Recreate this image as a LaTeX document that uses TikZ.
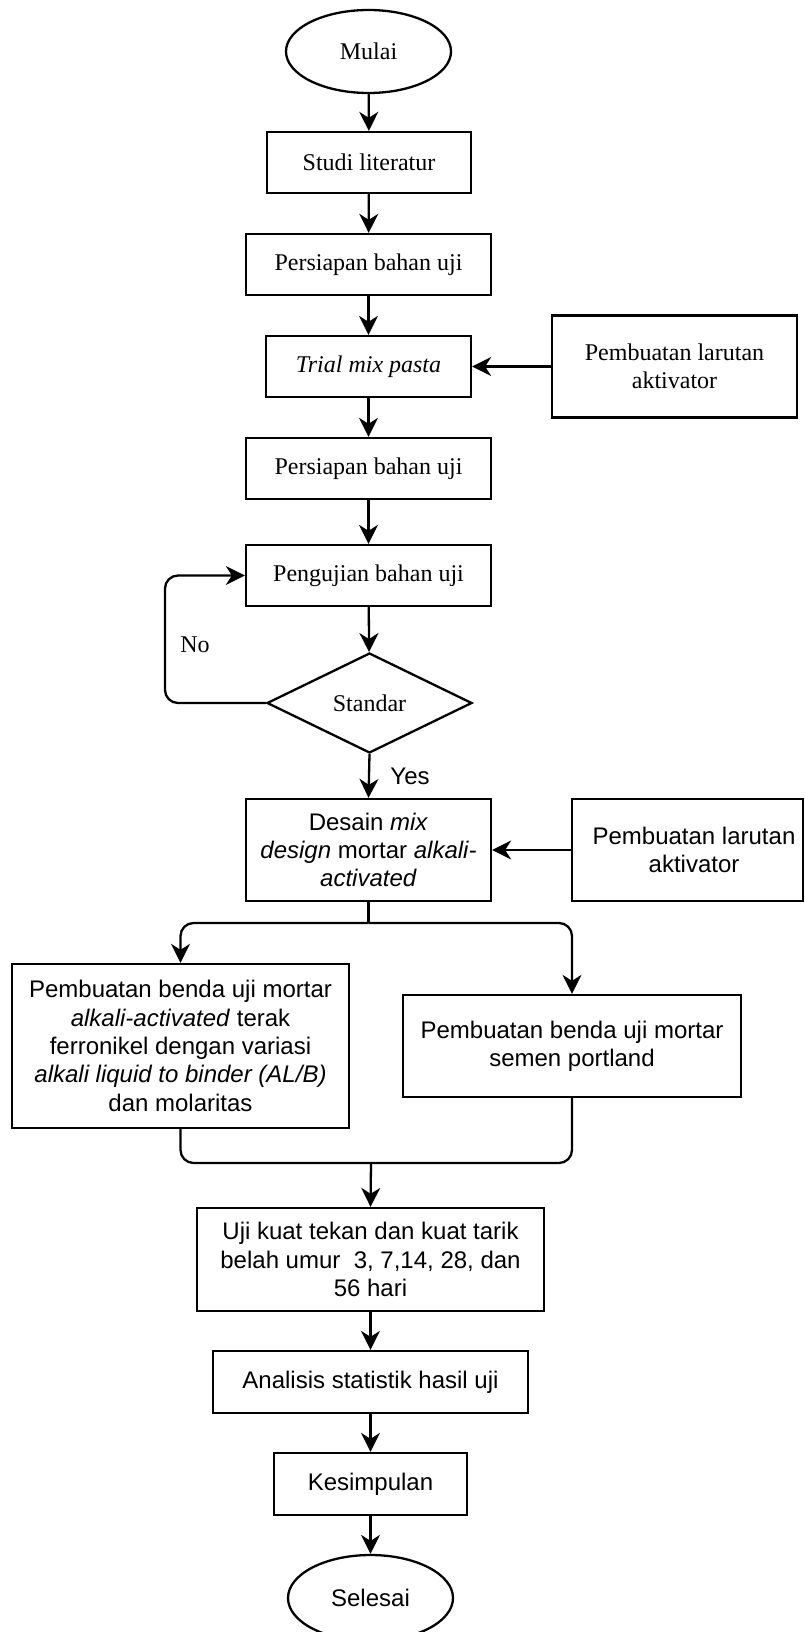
\documentclass[tikz,border=0pt]{standalone}
\usepackage{fontspec}
\setmainfont{Liberation Serif}
\newfontfamily\arial{Liberation Sans}
\usetikzlibrary{shapes.geometric,arrows.meta}
\begin{document}
\begin{tikzpicture}[x=1pt,y=-1pt,
  every node/.style={font=\fontsize{24}{28.3}\selectfont, text=black},
  proc/.style={draw, line width=2.3pt, rectangle, inner sep=0pt, align=center},
  term/.style={draw, ellipse, line width=2.3pt, inner sep=0pt},
  dec/.style={draw, diamond, line width=2.3pt, inner sep=0pt},
  sans/.style={font=\arial\fontsize{24}{28.3}\selectfont},
  conn/.style={line width=2.3pt, -{Stealth[length=19pt,width=19pt,inset=6pt]}},
  link/.style={line width=2.3pt}
]
\useasboundingbox (0,0) rectangle (804,1632);

% upper part (serif)
\node[term, minimum width=165pt, minimum height=83pt] (mulai) at (368.5,51.5) {Mulai};
\node[proc, minimum width=204pt, minimum height=61pt] (studi) at (369,162.5) {Studi literatur};
\node[proc, minimum width=245pt, minimum height=61pt] (pers1) at (368.5,264.5) {Persiapan bahan uji};
\node[proc, minimum width=205pt, minimum height=61pt] (trial) at (368.5,366.5) {\textit{Trial mix pasta}};
\node[proc, minimum width=245pt, minimum height=102pt] (akt1) at (674.5,366.5) {Pembuatan larutan\\aktivator};
\node[proc, minimum width=245pt, minimum height=61pt] (pers2) at (368.5,468.5) {Persiapan bahan uji};
\node[proc, minimum width=245pt, minimum height=61pt] (uji1) at (368.5,575.5) {Pengujian bahan uji};
\node[dec, minimum width=205pt, minimum height=100pt] (standar) at (369.5,703) {Standar};
\node (nolabel) at (195,645) {No};
\node[sans] (yeslabel) at (410,776) {Yes};

% lower part (sans)
\node[proc, sans, minimum width=245pt, minimum height=102pt] (desain) at (368.5,850)
  {Desain \textit{mix}\\\textit{design} mortar \textit{alkali-}\\\textit{activated}};
\node[proc, minimum width=231pt, minimum height=102pt] (akt2) at (687.5,850) {};
\node[sans, align=center] (akt2t) at (694,850) {Pembuatan larutan\\aktivator};
\node[proc, sans, minimum width=337pt, minimum height=164pt] (left) at (180.5,1046)
  {Pembuatan benda uji mortar\\\textit{alkali-activated} terak\\ferronikel dengan variasi\\\textit{alkali liquid to binder (AL/B)}\\dan molaritas};
\node[proc, sans, minimum width=338pt, minimum height=102pt] (right) at (572,1046)
  {Pembuatan benda uji mortar\\semen portland};
\node[proc, sans, minimum width=347pt, minimum height=103pt] (uji) at (370.5,1259.5)
  {Uji kuat tekan dan kuat tarik\\belah umur\ \ 3, 7,14, 28, dan\\56 hari};
\node[proc, sans, minimum width=315pt, minimum height=62pt] (analisis) at (370.5,1382) {Analisis statistik hasil uji};
\node[proc, sans, minimum width=193pt, minimum height=62pt] (kesimpulan) at (370.5,1484) {Kesimpulan};
\node[term, sans, minimum width=165pt, minimum height=86pt] (selesai) at (370.5,1598) {Selesai};

% helper coordinates
\coordinate (loopx) at (165,703);
\coordinate (split) at (368.5,923);
\coordinate (merge) at (371,1163);

% connectors
\draw[conn] (mulai) -- (studi);
\draw[conn] (studi) -- (pers1);
\draw[conn] (pers1) -- (trial);
\draw[conn] (akt1.west) -- (trial.east);
\draw[conn] (trial) -- (pers2);
\draw[conn] (pers2) -- (uji1);
\draw[conn] (uji1) -- (standar);
\draw[conn, rounded corners=13pt] (standar.west) -- (loopx) |- (uji1.west);
\draw[conn] (standar.south) -- (desain.north);
\draw[conn] (akt2.west) -- (desain.east);
\draw[link] (desain.south) -- (split);
\draw[conn, rounded corners=13pt] (split) -| (left.north);
\draw[conn, rounded corners=13pt] (split) -| (right.north);
\draw[link, rounded corners=13pt] (left.south) |- (merge);
\draw[link, rounded corners=13pt] (right.south) |- (merge);
\draw[conn] (merge) -- (uji.north);
\draw[conn] (uji) -- (analisis);
\draw[conn] (analisis) -- (kesimpulan);
\draw[conn] (kesimpulan) -- (selesai);
\end{tikzpicture}
\end{document}
